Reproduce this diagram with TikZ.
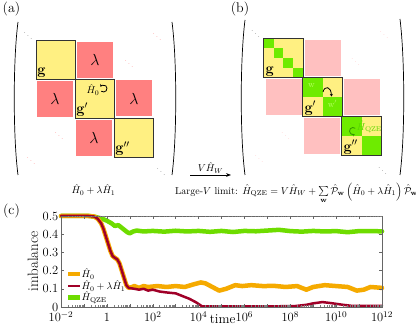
\RequirePackage{fix-cm}
\documentclass[tikz,border=0pt]{standalone}
\usepackage{amsmath}
\usetikzlibrary{arrows.meta, calc}

\definecolor{gyellow}{RGB}{255,240,130}
\definecolor{lamred}{RGB}{255,128,128}
\definecolor{lampink}{RGB}{255,192,192}
\definecolor{wgreen}{RGB}{110,235,0}
\definecolor{wtext}{RGB}{185,255,100}
\definecolor{qgreen}{RGB}{90,215,0}
\definecolor{loopgreen}{RGB}{50,150,0}
\definecolor{curveorange}{RGB}{245,170,0}
\definecolor{curvered}{RGB}{160,0,40}
\definecolor{curvegreen}{RGB}{110,220,0}

\begin{document}
\begin{tikzpicture}[
    x=1pt, y=-1pt,
    gblock/.style={rectangle, draw=black!80, line width=0.7pt, fill=gyellow, minimum size=39pt, inner sep=0pt},
    gfill/.style={rectangle, fill=gyellow, minimum size=39pt, inner sep=0pt},
    gframe/.style={draw=black!80, line width=0.7pt},
    redblock/.style={rectangle, fill=lamred, minimum size=36pt, inner sep=0pt, font=\fontsize{16}{16}\selectfont},
    pinkblock/.style={rectangle, fill=lampink, minimum size=36pt, inner sep=0pt},
    glabel/.style={anchor=south west, inner sep=1.5pt, font=\fontsize{14.5}{14.5}\selectfont\bfseries},
    dd/.style={inner sep=0pt, font=\footnotesize},
    paren/.style={line width=0.7pt},
    panel/.style={font=\fontsize{14}{14}\selectfont, inner sep=0pt},
    loop/.style={-{Stealth[length=2.5pt, width=3pt]}, line width=0.8pt},
    curve/.style={line join=round, line cap=round},
    tick/.style={font=\fontsize{12.5}{12.5}\selectfont, inner sep=0pt},
    legtext/.style={anchor=west, font=\fontsize{10}{10}\selectfont, inner sep=1.5pt}
]
    \useasboundingbox (0,0) rectangle (416,328);

    % Panel labels
    \node[panel] (pa) at (11.5,9) {(a)};
    \node[panel] (pb) at (240,9) {(b)};
    \node[panel] (pc) at (11.5,211) {(c)};

    % ---------------- Panel (a) ----------------
    \draw[paren] (18,22) .. controls (13,60) and (13,137) .. (18,175);
    \draw[paren] (172,22) .. controls (177,60) and (177,137) .. (172,175);

    \node[gblock] (ga) at (55.5,59.5) {};
    \node[redblock] (la1) at (95,60) {$\lambda$};
    \node[redblock] (la2) at (55,99) {$\lambda$};
    \node[gblock] (gpa) at (94.5,98.5) {};
    \node[redblock] (la3) at (134,98.5) {$\lambda$};
    \node[redblock] (la4) at (94,138) {$\lambda$};
    \node[gblock] (gppa) at (133.5,137.5) {};

    \node[glabel] (gal) at (ga.south west) {g};
    \node[glabel] (gpal) at (gpa.south west) {g$'$};
    \node[glabel] (gppal) at (gppa.south west) {g$''$};

    % H0 loop
    \node[font=\fontsize{10}{10}\selectfont, inner sep=0pt] (h0a) at (93,90) {$\hat H_0$};
    \coordinate (loopa) at (103.5,88.5);
    \draw[loop] ($(loopa)+(130:3.5)$) arc (130:-150:3.5);

    % dots
    \node[dd, text=black!60] (dda1) at (28,33) {$\ddots$};
    \node[dd, text=lamred] (dda2) at (157,34) {$\ddots$};
    \node[dd, text=lamred] (dda3) at (129,61) {$\ddots$};
    \node[dd, text=lamred] (dda4) at (59,133) {$\ddots$};
    \node[dd, text=lamred] (dda5) at (31,158) {$\ddots$};
    \node[dd, text=black!60] (dda6) at (161,169) {$\ddots$};

    % arrow between panels
    \coordinate (arrs) at (190,175);
    \coordinate (arre) at (231,175);
    \draw[-{Stealth[length=5pt]}, line width=0.6pt] (arrs) -- (arre)
        node[midway, above=1.5pt, font=\fontsize{10}{10}\selectfont, inner sep=0pt] (arrl) {$V\hat H_W$};

    \node[font=\fontsize{10}{10}\selectfont, anchor=base, inner sep=0pt] (capa) at (93.5,194) {$\hat H_0+\lambda\hat H_1$};

    % ---------------- Panel (b) ----------------
    \draw[paren] (245,20) .. controls (240,60) and (240,137) .. (245,175);
    \draw[paren] (400,19) .. controls (405,60) and (405,137) .. (400,175);

    \node[gfill] (gb) at (283.5,58) {};
    \node[pinkblock] (lb1) at (323,58) {};
    \node[pinkblock] (lb2) at (283.5,97) {};
    \node[gfill] (gpb) at (322.5,97) {};
    \node[pinkblock] (lb3) at (361.5,97) {};
    \node[pinkblock] (lb4) at (322,136) {};
    \node[gfill] (gppb) at (361.5,136) {};

    % green sub blocks
    \foreach \i in {0,...,3}
        \fill[wgreen] ($(gb.north west)+(\i*9.75,\i*9.75)$) rectangle ++(9.75,9.75);
    \fill[wgreen] (gpb.north west) rectangle (gpb.center);
    \fill[wgreen] (gpb.center) rectangle (gpb.south east);
    \fill[wgreen] (gppb.north west) rectangle (gppb.center);
    \fill[wgreen] (gppb.center) rectangle (gppb.south east);

    \draw[gframe] (gb.north west) rectangle (gb.south east);
    \draw[gframe] (gpb.north west) rectangle (gpb.south east);
    \draw[gframe] (gppb.north west) rectangle (gppb.south east);

    \node[glabel] (gbl) at (gb.south west) {g};
    \node[glabel] (gpbl) at (gpb.south west) {g$'$};
    \node[glabel] (gppbl) at (gppb.south west) {g$''$};

    % w -> w'
    \node[font=\fontsize{9}{9}\selectfont, text=wtext, inner sep=0pt] (wb) at (311.5,85.5) {w};
    \node[font=\fontsize{9}{9}\selectfont, text=wtext, inner sep=0pt] (wpb) at (332.5,103.5) {w$'$};
    \coordinate (hops) at (323,92);
    \coordinate (hope) at (331.5,96.5);
    \draw[loop] (hops) .. controls (324.5,85.5) and (331,86) .. (hope);

    % QZE loop
    \node[font=\fontsize{10}{10}\selectfont, text=qgreen, inner sep=0pt, anchor=west] (hq) at (356.5,127) {$\hat H_{\mathrm{QZE}}$};
    \coordinate (loopb) at (353,131);
    \draw[loop, draw=loopgreen] ($(loopb)+(-50:3.5)$) arc (-50:-300:3.5);

    % dots
    \node[dd, text=black!60] (ddb1) at (255.5,31) {$\ddots$};
    \node[dd, text=lampink] (ddb2) at (384,32) {$\ddots$};
    \node[dd, text=lampink] (ddb3) at (355.5,59) {$\ddots$};
    \node[dd, text=lampink] (ddb4) at (285.5,133) {$\ddots$};
    \node[dd, text=lampink] (ddb5) at (259,156) {$\ddots$};
    \node[dd, text=black!60] (ddb6) at (382.5,168) {$\ddots$};

    \node[font=\fontsize{10}{10}\selectfont, anchor=base west, inner sep=0pt] (capb) at (175,194.5)
        {Large-$V$ limit: $\hat H_{\mathrm{QZE}}=V\hat H_W+\sum\limits_{\mathbf w}\hat{\mathcal P}_{\mathbf w}\left(\hat H_0+\lambda\hat H_1\right)\hat{\mathcal P}_{\mathbf w}$};

    % ---------------- Panel (c) ----------------
    \begin{scope}[shift={(61,307)}, x=22.93pt, y=182pt]
        % curves
        \draw[curve, curvegreen, line width=4.5pt] plot coordinates {
            (0,0.5) (1.25,0.5) (1.5,0.495) (1.8,0.485) (2.0,0.474) (2.2,0.46) (2.35,0.445)
            (2.5,0.45) (2.6,0.44) (2.75,0.425) (2.9,0.41) (3.0,0.405) (3.15,0.415) (3.3,0.42)
            (3.6,0.415) (4.0,0.418) (4.5,0.414) (5.0,0.419) (5.5,0.415) (6.0,0.418) (6.5,0.413)
            (7.0,0.418) (7.5,0.412) (8.0,0.418) (8.5,0.416) (9.0,0.42) (9.5,0.424) (10.0,0.417)
            (10.5,0.414) (11.0,0.418) (11.5,0.415) (12.0,0.417) (12.5,0.411) (13.0,0.417) (14,0.416)};
        \draw[curve, curveorange, line width=4.5pt] plot coordinates {
            (0,0.5) (1.2,0.5) (1.45,0.497) (1.6,0.485) (1.75,0.46) (1.85,0.43) (1.95,0.39)
            (2.05,0.35) (2.15,0.31) (2.25,0.28) (2.35,0.27) (2.45,0.262) (2.55,0.24) (2.65,0.2)
            (2.75,0.16) (2.85,0.12) (2.95,0.105) (3.1,0.11) (3.2,0.115) (3.4,0.105) (3.6,0.115)
            (3.8,0.11) (4.2,0.115) (4.6,0.11) (5.0,0.115) (5.4,0.11) (5.8,0.125) (6.1,0.135)
            (6.3,0.13) (6.6,0.11) (6.9,0.09) (7.2,0.1) (7.6,0.12) (7.9,0.115) (8.3,0.12)
            (8.8,0.115) (9.3,0.116) (9.8,0.11) (10.3,0.115) (10.7,0.095) (11.0,0.11) (11.5,0.12)
            (12.0,0.115) (12.5,0.11) (12.9,0.09) (13.2,0.095) (13.5,0.11) (14,0.105)};
        \draw[curve, curvered, line width=2.5pt] plot coordinates {
            (0,0.5) (1.2,0.5) (1.45,0.497) (1.6,0.485) (1.75,0.46) (1.85,0.43) (1.95,0.39)
            (2.05,0.35) (2.15,0.31) (2.25,0.28) (2.35,0.27) (2.45,0.262) (2.55,0.24) (2.65,0.2)
            (2.75,0.16) (2.85,0.12) (2.95,0.105) (3.2,0.1) (3.4,0.095) (3.6,0.1) (3.8,0.09)
            (4.0,0.095) (4.3,0.085) (4.6,0.08) (5.0,0.075) (5.3,0.06) (5.6,0.045) (5.9,0.025)
            (6.15,0.004) (6.5,0.003) (7.5,0.004) (8.5,0.003) (9.5,0.004) (10.2,0.005)
            (10.7,0.012) (11.0,0.02) (11.4,0.027) (11.8,0.021) (12.3,0.012) (12.7,0.006) (14,0.006)};

        % frame and ticks
        \draw[black!60, line width=0.4pt] (0,0) rectangle (14,0.5);
        \foreach \d in {0,...,13}
            \foreach \m in {2,...,9} {
                \draw[black!50, line width=0.3pt] ({\d+log10(\m)},0) -- ++(0,1.5pt);
                \draw[black!50, line width=0.3pt] ({\d+log10(\m)},0.5) -- ++(0,-1.5pt);
            }
        \foreach \d in {1,...,13} {
            \draw[black!60, line width=0.4pt] (\d,0) -- ++(0,3pt);
            \draw[black!60, line width=0.4pt] (\d,0.5) -- ++(0,-3pt);
        }
        \foreach \v in {0.1,0.2,0.3,0.4} {
            \draw[black!60, line width=0.4pt] (0,\v) -- ++(3pt,0);
            \draw[black!60, line width=0.4pt] (14,\v) -- ++(-3pt,0);
        }

        % tick labels
        \foreach \v [count=\i] in {0,0.1,0.2,0.3,0.4,0.5}
            \node[tick, anchor=east, inner sep=2.5pt] (yl\i) at (0,\v) {\v};
        \foreach \u/\lab [count=\i] in {0/10^{-2},2/1,4/10^{2},6/10^{4},8/10^{6},10/10^{8},12/10^{10},14/10^{12}}
            \node[tick, anchor=base] (xl\i) at (\u,-0.08) {$\lab$};
        \node[anchor=base, font=\fontsize{13.5}{13.5}\selectfont, inner sep=0pt] (xlab) at (7.05,-0.09) {time};
        \node[rotate=90, font=\fontsize{15}{15}\selectfont, inner sep=0pt] (ylab) at (-1.22,0.25) {imbalance};
    \end{scope}

    % legend
    \coordinate (lg1a) at (68,274);  \coordinate (lg1b) at (80,274);
    \coordinate (lg2a) at (68,286);  \coordinate (lg2b) at (80,286);
    \coordinate (lg3a) at (68,297.5);\coordinate (lg3b) at (80,297.5);
    \draw[curveorange, line width=4.5pt] (lg1a) -- (lg1b);
    \draw[curvered, line width=2.5pt] (lg2a) -- (lg2b);
    \draw[curvegreen, line width=4.5pt] (lg3a) -- (lg3b);
    \node[legtext] (lt1) at (lg1b) {$\hat H_0$};
    \node[legtext] (lt2) at (lg2b) {$\hat H_0+\lambda\hat H_1$};
    \node[legtext] (lt3) at (lg3b) {$\hat H_{\mathrm{QZE}}$};
\end{tikzpicture}
\end{document}
